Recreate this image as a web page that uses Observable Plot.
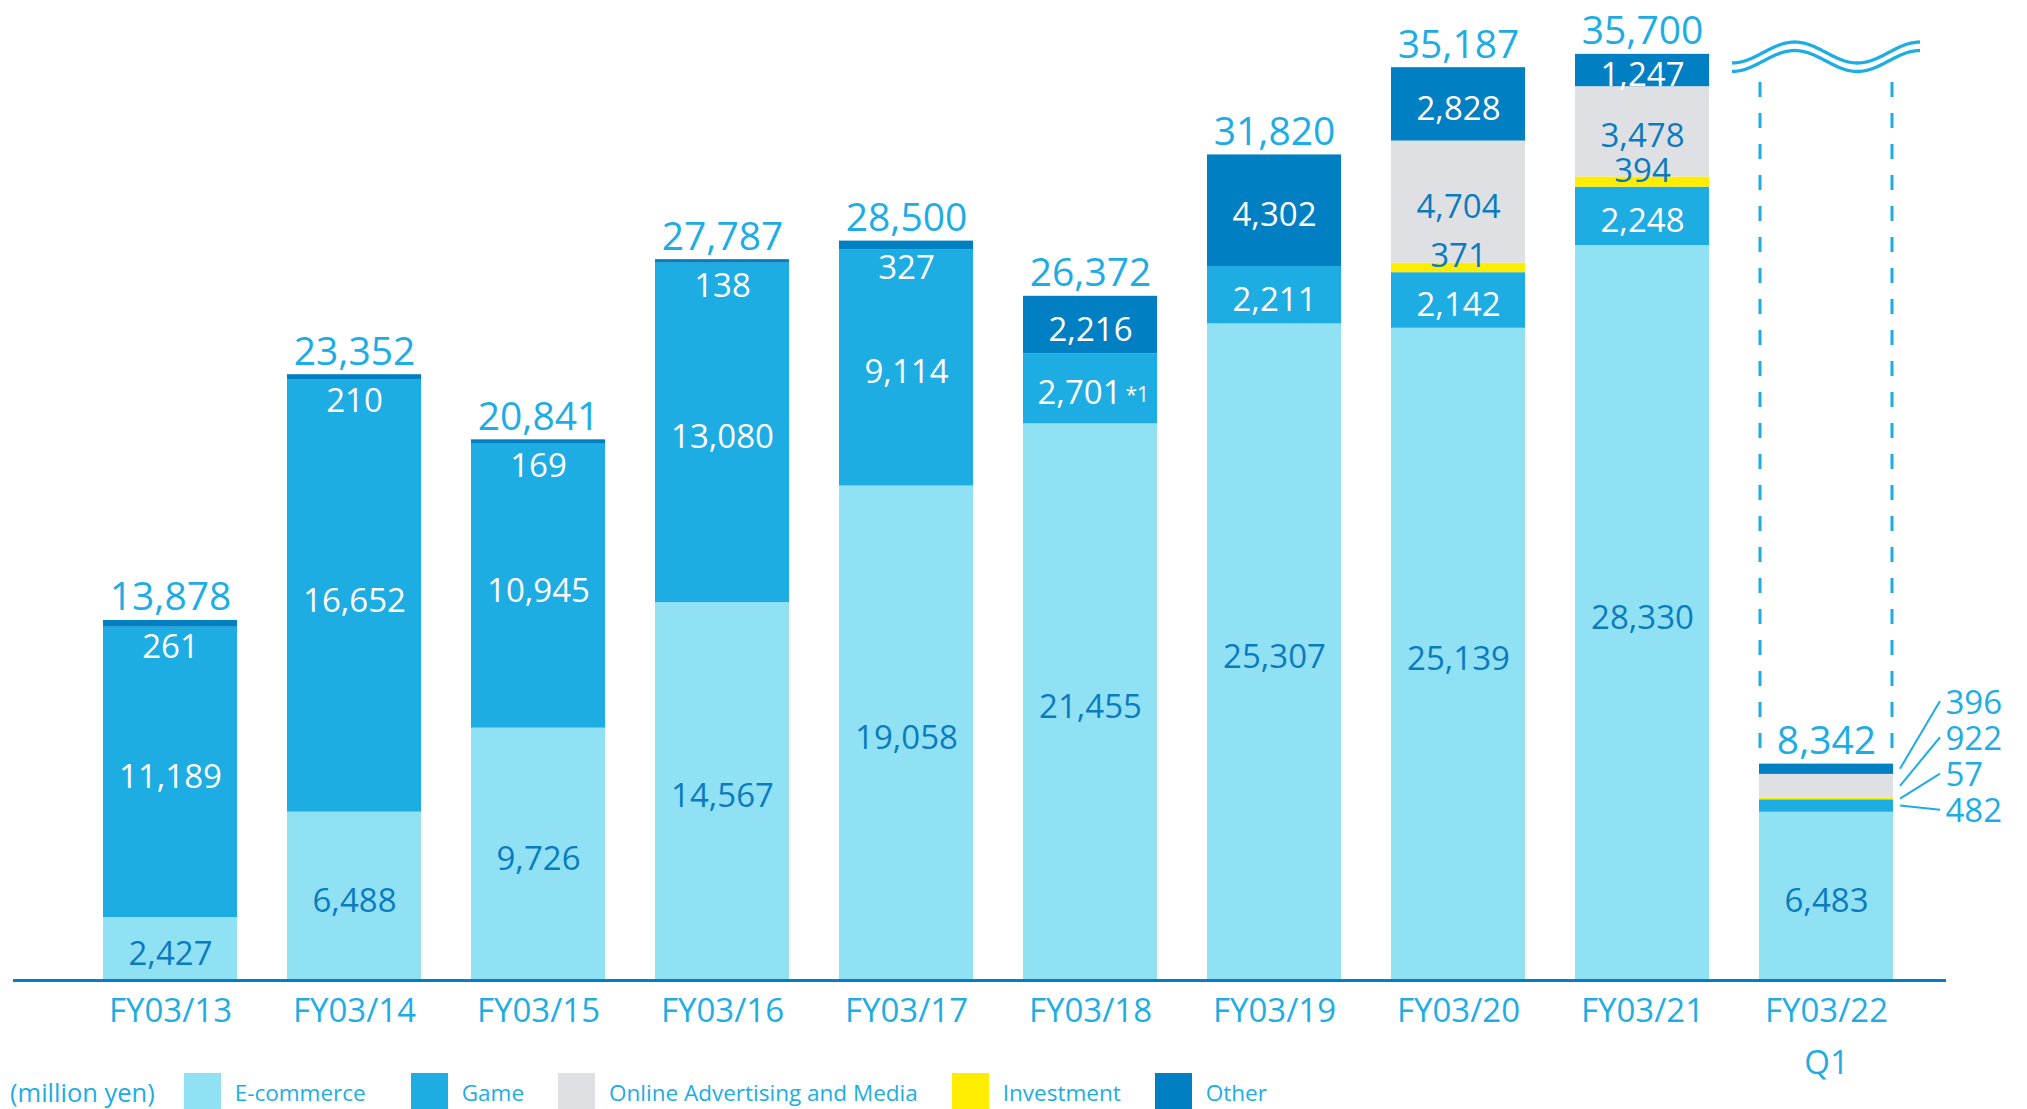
<!DOCTYPE html>
<html>
<head>
<meta charset="utf-8">
<script src="https://cdn.jsdelivr.net/npm/d3@7"></script>
<script src="https://cdn.jsdelivr.net/npm/@observablehq/plot@0.6"></script>
<style>
  html, body { margin: 0; padding: 0; background: #ffffff; overflow: hidden; }
  body { width: 2027px; height: 1109px; font-family: "Open Sans", sans-serif; }
  #chart svg { display: block; }
  #legend { display: flex; align-items: flex-start; height: 39px; padding-top: 3px; box-sizing: border-box; padding-left: 10px; }
  #legend .unit { color: #1DADE4; font-size: 25.5px; line-height: 36px; margin-right: 29px; padding-top: 1px; }
  #legend .item { display: flex; align-items: flex-start; margin-right: 34px; }
  #legend .item.first { margin-right: 45px; }
  #legend .sw { width: 37px; height: 36px; margin-right: 14px; flex: none; }
  #legend .lab { color: #1DADE4; font-size: 22.5px; line-height: 36px; padding-top: 2px; }
</style>
</head>
<body>
<div id="chart"></div>
<div id="legend"></div>
<script>
// ---------- data ----------
const categories = ["FY03/13", "FY03/14", "FY03/15", "FY03/16", "FY03/17", "FY03/18", "FY03/19", "FY03/20", "FY03/21", "FY03/22 Q1"];
const tickLabels = ["FY03/13", "FY03/14", "FY03/15", "FY03/16", "FY03/17", "FY03/18", "FY03/19", "FY03/20", "FY03/21", "FY03/22\nQ1"];
const ecommerce  = [2427, 6488, 9726, 14567, 19058, 21455, 25307, 25139, 28330, 6483];
const game       = [11189, 16652, 10945, 13080, 9114, 2701, 2211, 2142, 2248, 482];
const investment = [0, 0, 0, 0, 0, 0, 0, 371, 394, 57];
const onlineAd   = [0, 0, 0, 0, 0, 0, 0, 4704, 3478, 922];
const other      = [261, 210, 169, 138, 327, 2216, 4302, 2828, 1247, 396];
const totals     = [13878, 23352, 20841, 27787, 28500, 26372, 31820, 35187, 35700, 8342];
const legendNames = ["E-commerce", "Game", "Online Advertising and Media", "Investment", "Other"];
const unitLabel = "(million yen)";
const footnotes = [{category: "FY03/18", segment: "Game", mark: "*1"}];

// ---------- styles ----------
const segmentColors = {
  "E-commerce": "#91E1F5",
  "Game": "#1EADE3",
  "Online Advertising and Media": "#DFE0E4",
  "Investment": "#FFED00",
  "Other": "#0080C2"
};
const LIGHT = "#1DADE4";
const DARK = "#0B7BBF";
const WHITE = "#ffffff";

// stacking order (bottom to top)
const stackSeries = [
  {name: "E-commerce", values: ecommerce},
  {name: "Game", values: game},
  {name: "Investment", values: investment},
  {name: "Online Advertising and Media", values: onlineAd},
  {name: "Other", values: other}
];

const fmt = d3.format(",");
const lastIdx = categories.length - 1;
const lastCat = categories[lastIdx];

const bars = [];
const inner = [];    // in-bar labels
const tops = [];     // total labels
const sideSegs = []; // leader-labelled segments for the quarter bar
const noteMarks = [];

categories.forEach((cat, i) => {
  let cum = 0;
  stackSeries.forEach(s => {
    const v = s.values[i];
    const lo = cum, hi = cum + v;
    cum = hi;
    bars.push({cat, seg: s.name, value: v});
    if (!v) return;
    const mid = (lo + hi) / 2;
    const onDark = s.name === "Game" || s.name === "Other";
    const fill = onDark ? WHITE : DARK;
    if (i === lastIdx && s.name !== "E-commerce") {
      sideSegs.push({cat, seg: s.name, mid, text: fmt(v)});
      return;
    }
    const note = footnotes.find(f => f.category === cat && f.segment === s.name);
    if (note) {
      inner.push({cat, y: mid, text: fmt(v), fill, kind: "note"});
      noteMarks.push({cat, y: mid, text: note.mark});
    } else if (s.name === "Investment") {
      inner.push({cat, y: mid, text: fmt(v), fill: DARK, kind: "inv"});
    } else if (v < 1000) {
      inner.push({cat, y: hi, text: fmt(v), fill, kind: "top"});
    } else {
      inner.push({cat, y: mid, text: fmt(v), fill, kind: "mid"});
    }
  });
  tops.push({cat, y: cum, text: fmt(totals[i])});
});

const xLabels = categories.map((cat, i) => ({cat, label: tickLabels[i]}));
const gameMidLast = sideSegs.find(d => d.seg === "Game").mid;
const sideText = sideSegs.slice().reverse().map(d => d.text).join("\n");
const SIDE_STEP = 36.3;
const SIDE_DY = 16.4;

const kinds = [
  {k: "mid", dy: 5, dx: 0},
  {k: "top", dy: 27, dx: 0},
  {k: "inv", dy: -11, dx: 0},
  {k: "note", dy: 5, dx: -11}
];
const labelMarks = [];
for (const kind of kinds) {
  for (const fill of [WHITE, DARK]) {
    const rows = inner.filter(d => d.kind === kind.k && d.fill === fill);
    if (rows.length) {
      labelMarks.push(Plot.text(rows, {x: "cat", y: "y", text: "text", fill, dy: kind.dy, dx: kind.dx, fontSize: 33}));
    }
  }
}

const chart = Plot.plot({
  width: 2027,
  height: 1070,
  marginTop: 46,
  marginBottom: 90,
  marginLeft: 75,
  marginRight: 107,
  style: {fontFamily: '"Open Sans", sans-serif', background: "#ffffff", overflow: "visible"},
  x: {domain: categories, paddingInner: 0.2737, paddingOuter: 0.13685, axis: null},
  y: {domain: [0, 36000], axis: null},
  color: {domain: legendNames, range: legendNames.map(n => segmentColors[n])},
  marks: [
    Plot.barY(bars, {x: "cat", y: "value", fill: "seg"}),
    Plot.ruleY([0], {stroke: "#0080C3", strokeWidth: 3, insetLeft: -62, insetRight: -26}),
    ...labelMarks,
    Plot.text(noteMarks, {x: "cat", y: "y", text: "text", fill: WHITE, fontSize: 21, textAnchor: "start", lineAnchor: "bottom", dx: 35, dy: 13}),
    Plot.text(tops, {x: "cat", y: "y", text: "text", fill: LIGHT, fontSize: 39, lineAnchor: "bottom", dy: -10}),
    Plot.text([{cat: lastCat, y: gameMidLast, text: sideText}], {x: "cat", y: "y", text: "text", fill: LIGHT, fontSize: 33, textAnchor: "start", lineAnchor: "bottom", lineHeight: SIDE_STEP / 33, dx: 119, dy: SIDE_DY}),
    Plot.text(xLabels, {x: "cat", text: "label", frameAnchor: "bottom", lineAnchor: "top", dy: 4, lineHeight: 1.58, fontSize: 33, fill: LIGHT})
  ]
});

document.getElementById("chart").appendChild(chart);

// ---------- annotations for the quarter bar (scale-based) ----------
const xs = chart.scale("x");
const ys = chart.scale("y");
const svg = d3.select(chart);
const bx0 = xs.apply(lastCat);
const bx1 = bx0 + xs.bandwidth;
const topY = ys.apply(ys.domain[1]);
const ann = svg.append("g").attr("fill", "none").attr("stroke", LIGHT);

// dashed guides
const barTop = ys.apply(tops[lastIdx].y);
[bx0 + 1, bx1 - 1].forEach(x => {
  ann.append("line")
    .attr("x1", x).attr("x2", x)
    .attr("y1", topY + 36).attr("y2", barTop - 7)
    .attr("stroke-width", 3)
    .attr("stroke-dasharray", "15 16");
});

// break symbol (double wave)
const wx0 = bx0 - 27, wx1 = bx1 + 27;
const period = (wx1 - wx0) / 1.5;
const yc = topY + 6.5, amp = 10.5;
[0, 8.5].forEach(off => {
  const pts = d3.range(0, 121).map(t => {
    const x = wx0 + (wx1 - wx0) * t / 120;
    return [x, yc + off + amp * Math.cos(2 * Math.PI * (x - wx0) / period)];
  });
  ann.append("path").attr("d", d3.line()(pts)).attr("stroke-width", 3.3);
});

// leader lines
const order = ["Game", "Investment", "Online Advertising and Media", "Other"];
const anchorY = ys.apply(gameMidLast) + SIDE_DY - 12.1;
order.forEach((name, k) => {
  const seg = sideSegs.find(d => d.seg === name);
  if (!seg) return;
  ann.append("line")
    .attr("x1", bx1 + 7).attr("y1", ys.apply(seg.mid))
    .attr("x2", bx1 + 47).attr("y2", anchorY - SIDE_STEP * k)
    .attr("stroke-width", 2);
});

// ---------- legend ----------
const legend = document.getElementById("legend");
const unit = document.createElement("div");
unit.className = "unit";
unit.textContent = unitLabel;
legend.appendChild(unit);
legendNames.forEach((name, i) => {
  const item = document.createElement("div");
  item.className = i === 0 ? "item first" : "item";
  const sw = document.createElement("div");
  sw.className = "sw";
  sw.style.background = segmentColors[name];
  const lab = document.createElement("div");
  lab.className = "lab";
  lab.textContent = name;
  item.appendChild(sw);
  item.appendChild(lab);
  legend.appendChild(item);
});
</script>
</body>
</html>
